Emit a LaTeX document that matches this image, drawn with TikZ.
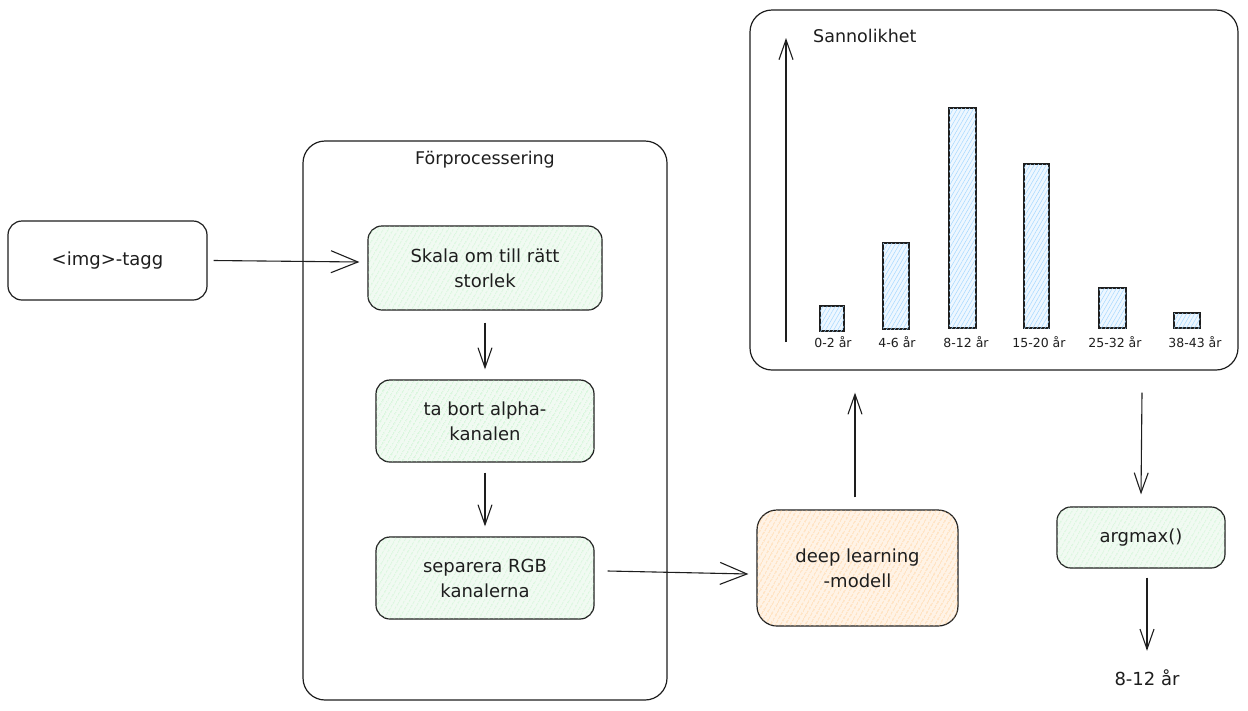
\documentclass[tikz,border=0pt]{standalone}
\usepackage{fontspec}
\setmainfont{DejaVu Sans}
\usetikzlibrary{arrows.meta,patterns.meta,positioning}
\definecolor{gfill}{HTML}{F1FAF2}
\definecolor{gline}{HTML}{B2F2BB}
\definecolor{ofill}{HTML}{FFF3E6}
\definecolor{oline}{HTML}{FFC98A}
\definecolor{bfill}{HTML}{EEF7FF}
\definecolor{bline}{HTML}{A5D8FF}
\definecolor{ink}{HTML}{1E1E1E}
\begin{document}
\begin{tikzpicture}[x=1pt,y=-1pt,
  box/.style={draw=ink,line width=1.2pt,rounded corners=14pt,inner sep=0pt,align=center,font=\fontsize{18}{25}\selectfont,text=ink},
  greenbox/.style={box,fill=gfill,postaction={pattern={Lines[angle=60,distance=4pt,line width=0.5pt]},pattern color=gline}},
  orangebox/.style={box,fill=ofill,postaction={pattern={Lines[angle=60,distance=4pt,line width=0.6pt]},pattern color=oline}},
  bar/.style={draw=ink,line width=1.3pt,fill=bfill,postaction={pattern={Lines[angle=60,distance=3.5pt,line width=0.5pt]},pattern color=bline}},
  conn/.style={draw=ink,line width=1.1pt,-{Straight Barb[length=20pt,width=14pt,line width=1.1pt]}},
  bigconn/.style={draw=ink,line width=1.1pt,-{Straight Barb[length=27pt,width=22pt,line width=1.1pt]}},
  lbl/.style={font=\fontsize{12.5}{14}\selectfont,text=ink,inner sep=0pt},
  ttl/.style={font=\fontsize{17.5}{20}\selectfont,text=ink,inner sep=0pt}
]
\useasboundingbox (0,0) rectangle (1248,710);
\fill[white] (0,0) rectangle (1248,710);

% container
\node[draw=ink,line width=1.2pt,rounded corners=22pt,minimum width=364pt,minimum height=559pt,inner sep=0pt] (pre) at (485,420.5) {};
\node[ttl] (pretitle) at (485,160) {Förprocessering};

% left box
\node[box,minimum width=199pt,minimum height=79pt] (img) at (107.5,260.5) {<img>-tagg};

% preprocessing boxes
\node[greenbox,minimum width=234pt,minimum height=84pt] (skala) at (485,268) {Skala om till rätt\\storlek};
\node[greenbox,minimum width=218pt,minimum height=82pt] (alpha) at (485,421) {ta bort alpha-\\kanalen};
\node[greenbox,minimum width=218pt,minimum height=82pt] (rgb) at (485,578) {separera RGB\\kanalerna};

% model
\node[orangebox,minimum width=201pt,minimum height=116pt,rounded corners=20pt] (dl) at (857.5,568) {deep learning\\-modell};

% argmax
\node[greenbox,minimum width=168pt,minimum height=61pt] (argmax) at (1141,537.5) {argmax()};
\node[font=\fontsize{18}{22}\selectfont,text=ink,inner sep=0pt] (res) at (1147,678) {8-12 år};

% chart
\node[draw=ink,line width=1.2pt,rounded corners=22pt,minimum width=488pt,minimum height=360pt,inner sep=0pt] (chart) at (994,190) {};
\coordinate (axbot) at (786,342);
\coordinate (axtop) at (786,38);
\draw[conn] (axbot) -- (axtop);
\node[ttl,anchor=west] (sann) at (813,36) {Sannolikhet};

\draw[bar] (820,306) rectangle (844,331);
\draw[bar] (883,243) rectangle (909,329);
\draw[bar] (949,108) rectangle (976,328);
\draw[bar] (1024,164) rectangle (1049,328);
\draw[bar] (1099,288) rectangle (1126,328);
\draw[bar] (1174,313) rectangle (1200,328);

\node[lbl] (l1) at (833,342) {0-2 år};
\node[lbl] (l2) at (897,342) {4-6 år};
\node[lbl] (l3) at (966,342) {8-12 år};
\node[lbl] (l4) at (1039,342) {15-20 år};
\node[lbl] (l5) at (1115,342) {25-32 år};
\node[lbl] (l6) at (1195,342) {38-43 år};

% connectors
\draw[bigconn] ([xshift=6pt]img.east) -- ([xshift=-8pt,yshift=6pt]skala.west);
\draw[conn] ([yshift=-12pt]skala.south) -- ([yshift=10pt]alpha.north);
\draw[conn] ([yshift=-10pt]alpha.south) -- ([yshift=10pt]rgb.north);
\draw[bigconn] ([xshift=13pt,yshift=7pt]rgb.east) -- ([xshift=-8pt,yshift=-6pt]dl.west);
\draw[conn] ([xshift=-2.5pt,yshift=12pt]dl.north) -- ([xshift=-139pt,yshift=-22pt]chart.south);
\draw[conn] ([xshift=148pt,yshift=-22pt]chart.south) -- ([yshift=12pt]argmax.north);
\draw[conn] ([xshift=6pt,yshift=-9pt]argmax.south) -- ([yshift=19pt]res.north);
\end{tikzpicture}
\end{document}
